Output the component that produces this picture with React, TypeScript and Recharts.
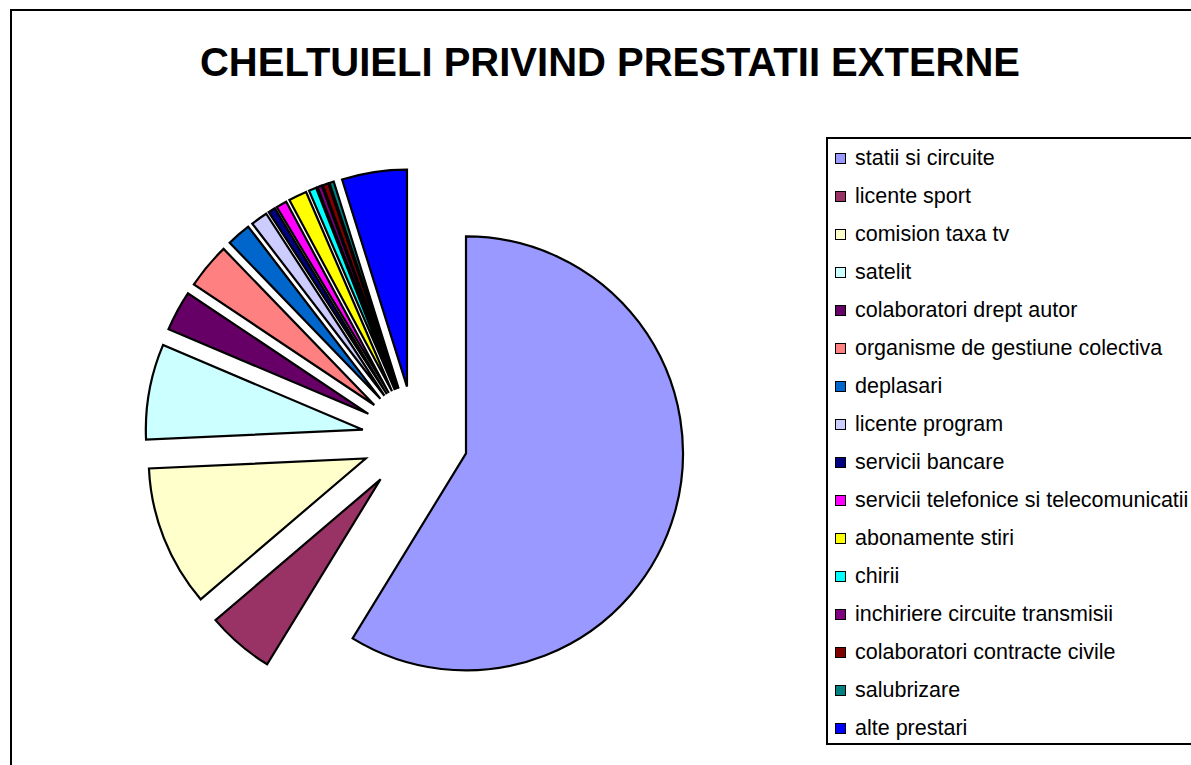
import React from 'react';
import { PieChart, Pie, Cell, Sector, Legend } from 'recharts';

const categories = [
  'statii si circuite',
  'licente sport',
  'comision taxa tv',
  'satelit',
  'colaboratori drept autor',
  'organisme de gestiune colectiva',
  'deplasari',
  'licente program',
  'servicii bancare',
  'servicii telefonice si telecomunicatii',
  'abonamente stiri',
  'chirii',
  'inchiriere circuite transmisii',
  'colaboratori contracte civile',
  'salubrizare',
  'alte prestari',
];

// share of total (%)
const values = [58.7, 5.0, 10.5, 7.1, 3.0, 3.4, 1.8, 1.25, 0.53, 0.8, 1.36, 0.56, 0.33, 0.42, 0.33, 4.83];

const colors = [
  '#9999FF', '#993366', '#FFFFCC', '#CCFFFF', '#660066', '#FF8080', '#0066CC', '#CCCCFF',
  '#000080', '#FF00FF', '#FFFF00', '#00FFFF', '#800080', '#800000', '#008080', '#0000FF',
];

const data = categories.map((name, i) => ({ name, value: values[i] }));

const FONT = '"Liberation Sans", Arial, sans-serif';
const RAD = Math.PI / 180;
const EXPLODE = 53;

function ExplodedSector(props: any) {
  const { cx, cy, midAngle, innerRadius, outerRadius, startAngle, endAngle, fill } = props;
  const dx = EXPLODE * Math.cos(midAngle * RAD);
  const dy = -EXPLODE * Math.sin(midAngle * RAD);
  return (
    <Sector
      cx={cx + dx}
      cy={cy + dy}
      innerRadius={innerRadius}
      outerRadius={outerRadius}
      startAngle={startAngle}
      endAngle={endAngle}
      fill={fill}
      stroke="#000"
      strokeWidth={2.2}
    />
  );
}

function LegendBox(props: any) {
  // keep the series order (legend sorts by name otherwise)
  const items = [...(props.payload || [])].sort(
    (a: any, b: any) => categories.indexOf(a.value) - categories.indexOf(b.value),
  );
  return (
    <div
      style={{
        width: 400,
        height: 608,
        border: '2px solid #000',
        background: '#fff',
        boxSizing: 'border-box',
        paddingTop: 0,
        fontFamily: FONT,
      }}
    >
      {items.map((it: any) => {
        const i = categories.indexOf(it.value);
        return (
          <div key={it.value} style={{ display: 'flex', alignItems: 'center', height: 38, paddingLeft: 7 }}>
            <span
              style={{
                width: 11,
                height: 11,
                background: colors[i],
                border: '1.5px solid #000',
                boxSizing: 'border-box',
                marginRight: 9,
                flexShrink: 0,
              }}
            />
            <span style={{ fontSize: 21.5, color: '#000', whiteSpace: 'nowrap' }}>{it.value}</span>
          </div>
        );
      })}
    </div>
  );
}

export default function App() {
  return (
    <div
      style={{
        position: 'absolute',
        left: 0,
        top: 0,
        width: 1191,
        height: 765,
        overflow: 'hidden',
        background: '#fff',
      }}
    >
      <div
        style={{
          position: 'absolute',
          left: 10,
          top: 9,
          width: 1300,
          height: 900,
          border: '2px solid #000',
          boxSizing: 'border-box',
        }}
      />
      <div
        style={{
          position: 'absolute',
          left: 0,
          width: 1220,
          top: 37,
          textAlign: 'center',
          fontFamily: FONT,
          fontWeight: 'bold',
          fontSize: 40,
          lineHeight: '50px',
          color: '#000',
        }}
      >
        CHELTUIELI PRIVIND PRESTATII EXTERNE
      </div>
      <div style={{ position: 'absolute', left: 0, top: 0 }}>
        <PieChart width={1191} height={765} margin={{ top: 0, right: 0, bottom: 0, left: 0 }}>
          <Pie
            data={data}
            dataKey="value"
            nameKey="name"
            cx={415}
            cy={439}
            innerRadius={0}
            outerRadius={217}
            startAngle={90}
            endAngle={-270}
            stroke="#000"
            strokeWidth={2.2}
            isAnimationActive={false}
            shape={ExplodedSector}
            inactiveShape={ExplodedSector}
            activeShape={ExplodedSector}
          >
            {data.map((d, i) => (
              <Cell key={d.name} fill={colors[i]} />
            ))}
          </Pie>
          <Legend
            layout="vertical"
            align="right"
            verticalAlign="top"
            itemSorter={null as any}
            content={LegendBox}
            wrapperStyle={{ position: 'absolute', left: 826, top: 137, width: 400 }}
          />
        </PieChart>
      </div>
    </div>
  );
}
